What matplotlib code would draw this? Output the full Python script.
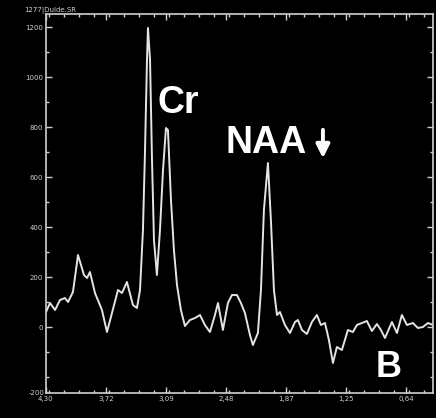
import matplotlib
matplotlib.use("Agg")

import matplotlib.pyplot as plt
from matplotlib.ticker import FixedLocator, MultipleLocator

# ── Spectrum (ppm, arbitrary intensity) ─────────────────────────────
ppm = [4.300, 4.259, 4.208, 4.158, 4.107, 4.076, 4.026, 3.995, 3.975, 3.944,
       3.914, 3.883, 3.853, 3.802, 3.731, 3.680, 3.629, 3.568, 3.527, 3.477,
       3.416, 3.375, 3.344, 3.314, 3.293, 3.273, 3.263, 3.242, 3.222, 3.202,
       3.172, 3.141, 3.110, 3.080, 3.060, 3.029, 2.999, 2.968, 2.928, 2.887,
       2.836, 2.785, 2.734, 2.684, 2.633, 2.582, 2.551, 2.501, 2.450, 2.409,
       2.358, 2.318, 2.277, 2.226, 2.196, 2.145, 2.114, 2.084, 2.043, 2.013,
       1.982, 1.951, 1.921, 1.870, 1.819, 1.768, 1.738, 1.697, 1.647, 1.596,
       1.545, 1.504, 1.463, 1.423, 1.382, 1.342, 1.291, 1.230, 1.179, 1.138,
       1.087, 1.037, 0.986, 0.935, 0.894, 0.853, 0.782, 0.731, 0.681, 0.630,
       0.569, 0.518, 0.467, 0.416, 0.365]
signal = [60, 96, 68, 108, 116, 100, 140, 228, 288, 248,
          208, 196, 220, 136, 68, -20, 56, 148, 136, 180,
          88, 76, 148, 388, 708, 1068, 1196, 1068, 668, 348,
          208, 388, 628, 796, 788, 508, 308, 168, 68, 4,
          28, 36, 48, 8, -20, 48, 96, -12, 96, 128,
          128, 96, 56, -32, -72, -24, 148, 468, 656, 428,
          148, 48, 60, 8, -24, 20, 28, -12, -28, 20,
          48, 8, 16, -52, -144, -80, -92, -12, -20, 8,
          16, 24, -16, 12, -12, -44, 20, -24, 48, 8,
          16, -4, 0, 16, 8]

x_ticks = [4.30, 3.69, 3.08, 2.47, 1.86, 1.25, 0.64]
x_labels = ["4,30", "3,72", "3,09", "2,48", "1,87", "1,25", "0,64"]
y_ticks = [0, 200, 400, 600, 800, 1000, 1200]
y_labels = ["0", "200", "400", "600", "800", "1000", "1200"]

FG = "#d0d0d0"

fig = plt.figure(figsize=(4.36, 4.18), dpi=100, facecolor="black")
ax = fig.add_axes([0.1055, 0.0598, 0.8875, 0.9067], facecolor="black")

ax.plot(ppm, signal, color="#e4e4e4", linewidth=1.4)

ax.set_xlim(4.30, 0.365)
ax.set_ylim(-264, 1252)

for s in ax.spines.values():
    s.set_color(FG)
    s.set_linewidth(1.2)

ax.xaxis.set_major_locator(FixedLocator(x_ticks))
ax.set_xticklabels(x_labels)
ax.xaxis.set_minor_locator(MultipleLocator(0.1525))
ax.yaxis.set_major_locator(FixedLocator(y_ticks))
ax.set_yticklabels(y_labels)
ax.yaxis.set_minor_locator(MultipleLocator(100))

ax.tick_params(which="both", colors=FG, labelsize=5, direction="in",
               top=True, right=True, pad=2)
ax.tick_params(which="major", length=4, width=1)
ax.tick_params(which="minor", length=2.5, width=1)

# header text in the corner
fig.text(0.055, 0.976, "1277|Dulde.SR", color=FG, fontsize=5,
         ha="left", va="center")
ax.text(-0.005, -264, "-200", color=FG, fontsize=5, ha="right", va="center",
        transform=ax.get_yaxis_transform())

# peak labels
lab = dict(color="white", fontsize=27, fontweight="bold",
           family="Liberation Sans", ha="left", va="baseline")
ax.text(3.17, 856, "Cr", **lab)
ax.text(2.47, 696, "NAA", **lab)
ax.text(0.945, -200, "B", **dict(lab, fontsize=26))
ax.annotate("", xy=(1.484, 664), xytext=(1.484, 800),
            arrowprops=dict(arrowstyle="-|>,head_width=0.4,head_length=0.8",
                            color="white", lw=2.8))

fig.savefig("out.png", dpi=100, facecolor="black")
